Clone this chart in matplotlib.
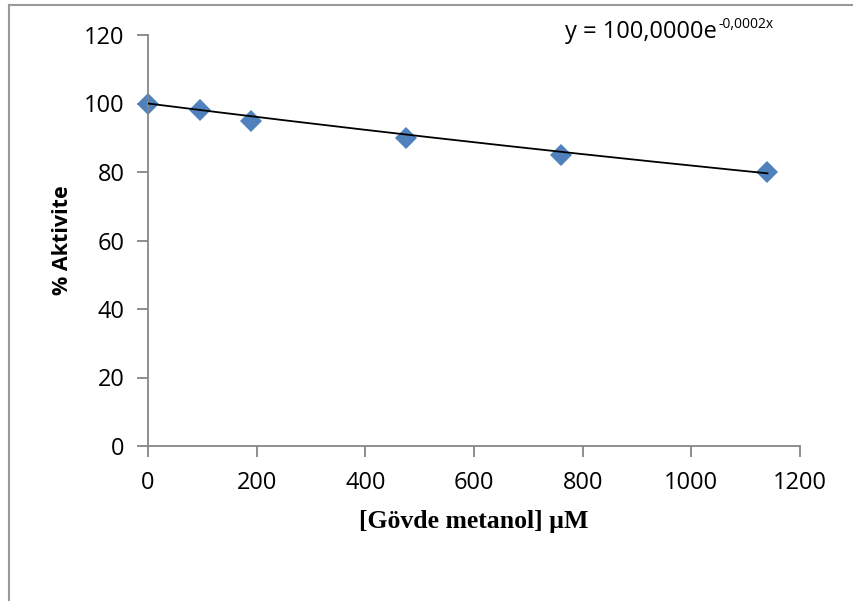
import numpy as np
import matplotlib.pyplot as plt
from matplotlib.lines import Line2D

conc = [0, 95, 190, 475, 760, 1140]
activity = [100, 98, 95, 90, 85, 80]
# trendline coefficients shown on the chart
fit_a = 100.0
fit_b = -0.0002

fig = plt.figure(figsize=(8.54, 6.01), dpi=100)
ax = fig.add_axes([148 / 854, 1 - 446 / 601, 652 / 854, 411 / 601])

x_fit = np.linspace(0, max(conc), 200)
ax.plot(x_fit, fit_a * np.exp(fit_b * x_fit), color='black', lw=1.3, zorder=3)
ax.plot(conc, activity, 'D', color='#4F81BD', markersize=11, markeredgewidth=0, zorder=2, clip_on=False)

ax.set_xlim(0, 1200)
ax.set_ylim(0, 120)
ax.set_xticks(range(0, 1201, 200))
ax.set_yticks(range(0, 121, 20))
for s in ['top', 'right']:
    ax.spines[s].set_visible(False)
for s in ['left', 'bottom']:
    ax.spines[s].set_color('#868686')
    ax.spines[s].set_linewidth(1.3)
ax.tick_params(length=8, width=1.3, color='#868686', labelsize=17)
ax.tick_params(axis='x', pad=10)
ax.tick_params(axis='y', pad=9)
for lab in ax.get_xticklabels() + ax.get_yticklabels():
    lab.set_family('Open Sans')

ax.set_xlabel('[Gövde metanol] µM', family='Liberation Serif', fontweight='bold', fontsize=18.5, labelpad=11)
ax.set_ylabel('% Aktivite', family='Open Sans', fontweight='bold', fontsize=15.5, labelpad=8)

eq = fig.text(565 / 854, 1 - 38 / 601, 'y = 100,0000e', family='Open Sans', fontsize=17)
r = fig.canvas.get_renderer()
bb = eq.get_window_extent(r)
fig.text(bb.x1 / 854 + 0.002, 1 - 28 / 601, '-0,0002x', family='Open Sans', fontsize=10)

# outer chart frame
fig.add_artist(Line2D([9 / 854, 9 / 854], [0, 1 - 5 / 601], transform=fig.transFigure, color='#9a9a9a', lw=1.5))
fig.add_artist(Line2D([9 / 854, 1], [1 - 5 / 601, 1 - 5 / 601], transform=fig.transFigure, color='#9a9a9a', lw=1.5))

fig.savefig('out.png', dpi=100)
